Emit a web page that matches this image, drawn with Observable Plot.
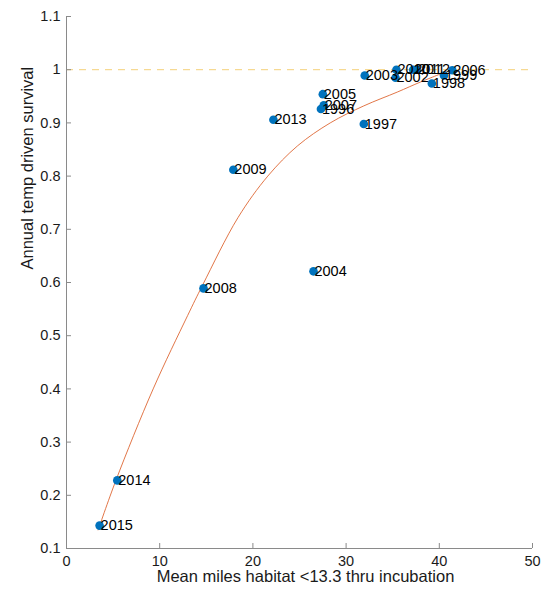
<!DOCTYPE html>
<html><head><meta charset="utf-8">
<script src="https://cdn.jsdelivr.net/npm/d3@7"></script>
<script src="https://cdn.jsdelivr.net/npm/@observablehq/plot@0.6"></script>
<style>body{margin:0;background:#fff}</style>
</head><body><div id="chart"></div>
<script>
const years = [2015, 2014, 2008, 2009, 2004, 2013, 2005, 2007, 1996, 1997, 2003, 2002, 2010, 2011, 2012, 2006, 1999, 1998];
const miles = [3.55, 5.45, 14.7, 17.9, 26.5, 22.2, 27.5, 27.6, 27.3, 31.9, 32.0, 35.3, 35.4, 37.2, 37.6, 41.4, 40.5, 39.2];
const survival = [0.143, 0.228, 0.589, 0.812, 0.621, 0.906, 0.954, 0.933, 0.926, 0.898, 0.989, 0.985, 1.0, 1.0, 1.0, 0.999, 0.989, 0.974];
const fitMiles = [3.4, 5.3, 9.3, 13.0, 14.6, 18.4, 21.6, 24.8, 28.3, 31.9, 35.5, 38.0, 40.7];
const fitSurvival = [0.135, 0.228, 0.40, 0.538, 0.595, 0.722, 0.80, 0.857, 0.90, 0.932, 0.958, 0.977, 0.996];
const referenceLevel = [1];
const xTicks = [0, 10, 20, 30, 40, 50];
const yTicks = [0.1, 0.2, 0.3, 0.4, 0.5, 0.6, 0.7, 0.8, 0.9, 1.0, 1.1];
const xLabel = "Mean miles habitat <13.3 thru incubation";
const yLabel = "Annual temp driven survival";

const points = years.map((yr, i) => ({year: String(yr), x: miles[i], y: survival[i]}));
const fit = fitMiles.map((x, i) => ({x, y: fitSurvival[i]}));
const fmtY = d => String(+d.toFixed(1));
const axisColor = "#8a8a8a";
const W = 542, H = 594, mL = 66, mR = 10, mT = 16, mB = 46, tickLen = 5;

const chart = Plot.plot({
  width: W, height: H,
  marginLeft: mL, marginRight: mR, marginTop: mT, marginBottom: mB,
  style: {fontFamily: "'Liberation Sans', Arial, sans-serif", fontSize: "14.5px", color: "#1a1a1a", background: "#fff"},
  x: {domain: [0, 50]},
  y: {domain: [0.1, 1.1]},
  marks: [
    Plot.ruleY(referenceLevel, {stroke: "#EDB120", strokeDasharray: "7,6", strokeWidth: 1, strokeOpacity: 0.6}),
    Plot.line(fit, {x: "x", y: "y", stroke: "#D95319", strokeWidth: 0.8, curve: "catmull-rom"}),
    Plot.dot(points, {x: "x", y: "y", r: 4.3, fill: "#0072BD"}),
    Plot.text(points, {x: "x", y: "y", text: "year", textAnchor: "start", dx: 1, fill: "#000", fontSize: 14.5}),
    Plot.ruleX([0], {stroke: axisColor}),
    Plot.ruleY([0.1], {stroke: axisColor}),
    Plot.tickX(xTicks, {x: d => d, stroke: axisColor, insetTop: H - mT - mB - tickLen}),
    Plot.tickY(yTicks, {y: d => d, stroke: axisColor, insetRight: W - mL - mR - tickLen}),
    Plot.axisX({ticks: xTicks, tickSize: 0, tickPadding: 7, label: null, fontSize: 14.5}),
    Plot.axisY({ticks: yTicks, tickSize: 0, tickPadding: 6, tickFormat: fmtY, label: null, fontSize: 14.5}),
    Plot.text([xLabel], {text: d => d, frameAnchor: "bottom", dx: 6, dy: 33, fontSize: 16.5, textAnchor: "middle"}),
    Plot.text([yLabel], {text: d => d, frameAnchor: "left", rotate: -90, dx: -39, dy: -13, fontSize: 16.5})
  ]
});
document.getElementById("chart").appendChild(chart);
</script>
</body></html>
